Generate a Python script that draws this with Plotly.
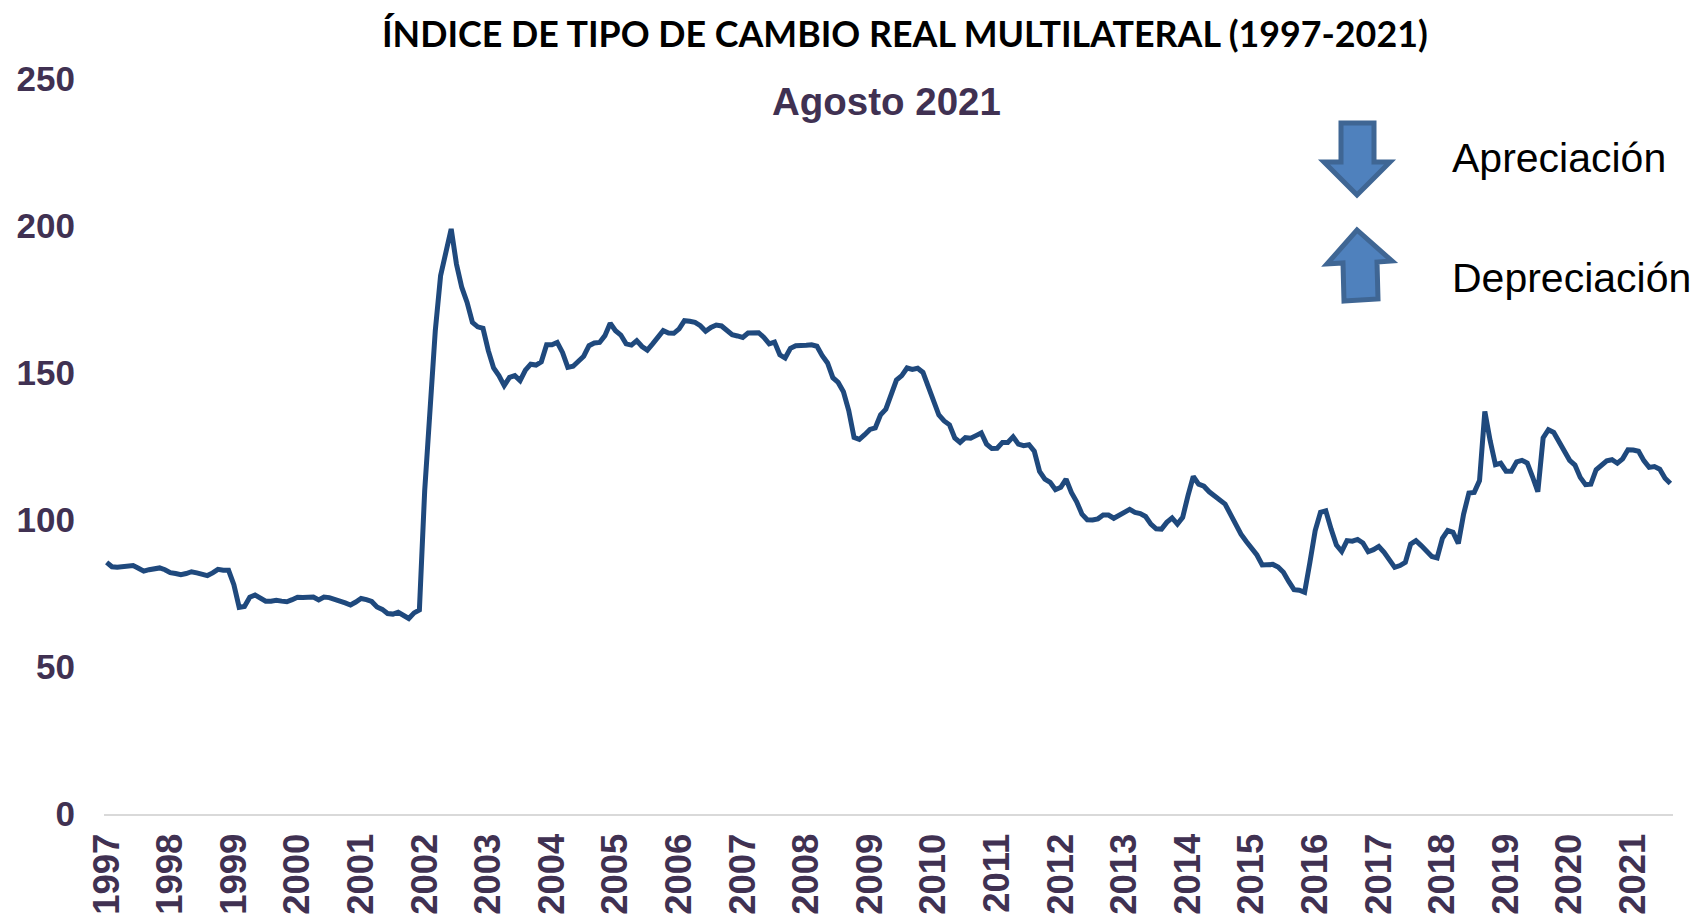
"""Indice de tipo de cambio real multilateral"""
import pandas as pd
import plotly.graph_objects as go

months = pd.date_range("1997-01-01", "2021-08-01", freq="MS").strftime("%Y-%m").tolist()
tick_years = [str(y) for y in range(1997, 2022)]
y_ticks = [0, 50, 100, 150, 200, 250]

itcrm = [
    85.6, 84.1, 83.9, 84.1, 84.7, 84.5, 83.6, 82.6, 83.1, 83.4, 83.7, 83.1,
    82.1, 81.8, 81.4, 81.8, 82.4, 82.0, 81.4, 81.1, 82.0, 83.2, 82.9, 82.9,
    78.0, 70.3, 70.6, 73.7, 74.5, 73.3, 72.4, 72.4, 72.7, 72.4, 72.2, 72.9,
    73.7, 73.6, 73.8, 73.8, 72.8, 73.8, 73.6, 73.2, 72.4, 71.8, 71.1, 72.1,
    73.3, 72.9, 72.3, 70.4, 69.6, 68.2, 68.0, 68.6, 67.7, 66.5, 68.4, 69.4,
    110.0, 137.0, 164.4, 183.1, 191.0, 199.0, 187.0, 179.1, 174.0, 167.2, 165.7, 165.2,
    157.6, 151.7, 149.1, 145.7, 148.5, 149.1, 147.4, 151.0, 153.0, 152.7, 153.8, 159.6,
    159.6, 160.4, 157.0, 151.9, 152.3, 154.2, 155.7, 159.3, 160.2, 160.4, 162.7, 166.9,
    164.4, 162.9, 159.9, 159.5, 161.0, 159.0, 157.8, 159.9, 162.1, 164.4, 163.6, 163.5,
    165.0, 167.8, 167.6, 167.2, 166.1, 164.2, 165.5, 166.3, 166.0, 164.7, 163.0, 162.6,
    162.1, 163.6, 163.7, 163.7, 162.1, 159.9, 160.5, 156.2, 155.1, 158.4, 159.3, 159.2,
    159.4, 159.6, 159.1, 155.9, 153.4, 148.4, 146.8, 143.6, 137.2, 128.1, 127.4, 129.0,
    130.8, 131.3, 135.8, 137.7, 142.8, 147.6, 149.1, 151.7, 151.2, 151.6, 150.2, 145.7,
    140.4, 135.7, 133.7, 132.4, 127.9, 126.4, 128.0, 127.8, 128.7, 129.6, 125.8, 124.3,
    124.4, 126.4, 126.4, 128.3, 125.8, 125.3, 125.6, 123.4, 116.5, 113.9, 112.8, 110.3,
    111.1, 113.9, 109.4, 106.2, 102.0, 100.1, 100.0, 100.4, 101.7, 101.7, 100.6, 101.5,
    102.8, 103.6, 102.6, 102.2, 101.2, 98.6, 97.0, 96.9, 99.2, 100.7, 98.6, 100.9,
    108.3, 114.8, 112.2, 111.5, 109.6, 108.3, 106.9, 105.4, 102.0, 98.3, 95.2, 92.7,
    90.7, 88.1, 84.7, 85.0, 84.9, 84.0, 82.2, 79.1, 76.3, 76.1, 75.4, 85.6,
    96.4, 102.6, 103.1, 96.9, 91.5, 89.3, 93.0, 92.8, 93.4, 92.2, 89.2, 89.9,
    91.0, 89.0, 86.5, 83.9, 84.5, 85.6, 91.8, 93.0, 91.3, 89.3, 87.6, 87.1,
    93.8, 96.4, 95.8, 92.0, 102.0, 109.2, 109.4, 113.4, 136.9, 127.0, 118.8, 119.3,
    116.6, 116.6, 119.8, 120.3, 119.4, 114.7, 109.6, 127.9, 130.7, 129.8, 126.4, 123.0,
    120.3, 118.7, 114.5, 112.0, 112.2, 117.1, 118.8, 120.1, 120.5, 119.3, 120.8, 123.9,
    123.8, 123.4, 120.2, 117.9, 118.2, 117.3, 114.2, 112.4,
]

W, H = 1697, 916
LEFT, RIGHT, TOP, BOTTOM = 104, 24, 79, 102
TICK_COLOR = "#403152"


def px_x(x):
    return (x - LEFT) / (W - LEFT - RIGHT)


def px_y(y):
    return 1 - (y - TOP) / (H - TOP - BOTTOM)


def arrow(points):
    path = "M " + " L ".join(f"{px_x(x)},{px_y(y)}" for x, y in points) + " Z"
    return dict(
        type="path", xref="paper", yref="paper", path=path,
        fillcolor="#4F81BD", line=dict(color="#3F6694", width=5),
    )


def label(text, x, y, size, color, family, anchor="center"):
    return dict(
        text=text, x=px_x(x), y=px_y(y), xref="paper", yref="paper",
        xanchor=anchor, yanchor="middle", showarrow=False,
        font=dict(size=size, color=color, family=family),
    )


fig = go.Figure(
    go.Scatter(
        x=months, y=itcrm, mode="lines",
        line=dict(color="#1F497D", width=5), hoverinfo="x+y",
    )
)
fig.update_xaxes(
    type="category",
    range=[-0.5, len(months) - 0.5],
    tickmode="array",
    tickvals=[y + "-01" for y in tick_years],
    ticktext=tick_years,
    tickangle=-90,
    tickfont=dict(size=36.5, color=TICK_COLOR, family="Liberation Sans", weight="bold"),
    ticks="outside", ticklen=3, tickcolor="rgba(0,0,0,0)",
    showline=True, linecolor="#D9D9D9", linewidth=2,
    showgrid=False, zeroline=False, automargin=False,
)
fig.update_yaxes(
    range=[0, 250],
    tickmode="array",
    tickvals=y_ticks,
    tickfont=dict(size=35, color=TICK_COLOR, family="Liberation Sans", weight="bold"),
    ticks="outside", ticklen=21, tickcolor="rgba(0,0,0,0)",
    showline=False, showgrid=False, zeroline=False, automargin=False,
)
fig.update_layout(
    width=W, height=H,
    margin=dict(l=LEFT, r=RIGHT, t=TOP, b=BOTTOM),
    paper_bgcolor="white", plot_bgcolor="white",
    showlegend=False,
    shapes=[
        arrow([(1341, 123), (1374, 123), (1374, 162), (1390, 162), (1357, 195), (1324, 162), (1341, 162)]),
        arrow([(1344, 301), (1378, 299), (1377, 262), (1392, 261), (1357, 230), (1327, 264), (1343, 263)]),
    ],
    annotations=[
        label("<b>ÍNDICE DE TIPO DE CAMBIO REAL MULTILATERAL (1997-2021)</b>", 905, 33, 35.8, "#000000", "Lato"),
        label("<b>Agosto 2021</b>", 886, 101, 38.5, TICK_COLOR, "Liberation Sans"),
        label("Apreciación", 1450, 158, 41, "#000000", "Liberation Sans", "left"),
        label("Depreciación", 1450, 278, 41, "#000000", "Liberation Sans", "left"),
    ],
)

fig.write_html(
    "out.html",
    config={"displayModeBar": False},
    post_script="document.body.style.margin='0';",
)
